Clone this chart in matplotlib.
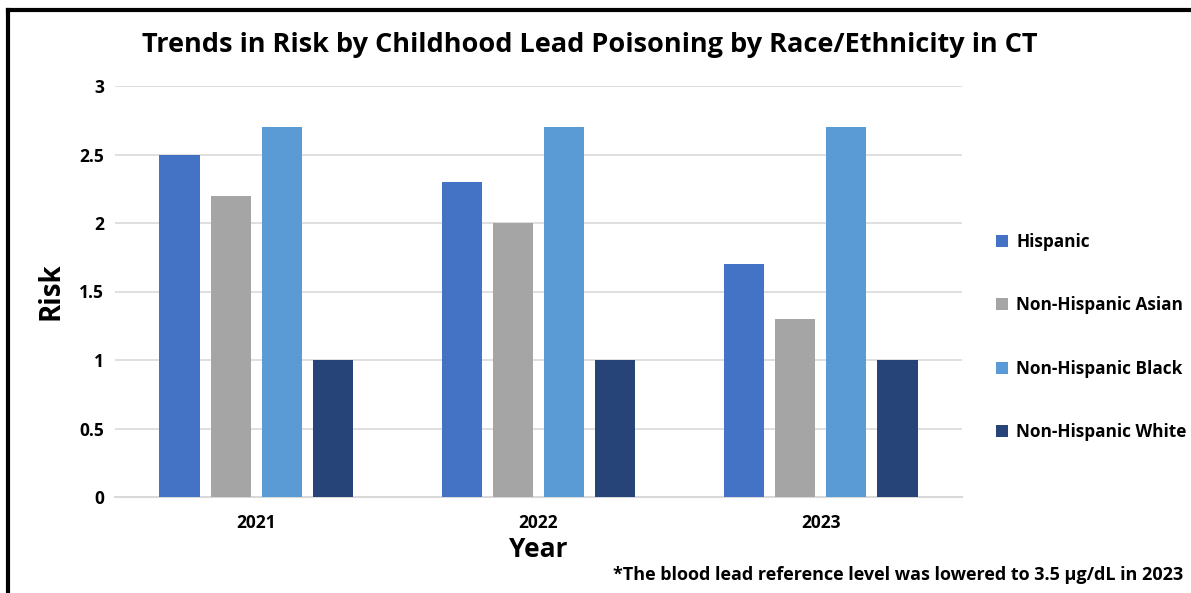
import numpy as np
import matplotlib.pyplot as plt
from matplotlib.patches import Patch
from matplotlib.lines import Line2D

plt.rcParams['font.family'] = ['Open Sans', 'DejaVu Sans']
plt.rcParams['font.weight'] = 'bold'

# Risk ratios by year and group
years = ['2021', '2022', '2023']
groups = ['Hispanic', 'Non-Hispanic Asian', 'Non-Hispanic Black', 'Non-Hispanic White']
hispanic = [2.5, 2.3, 1.7]
nh_asian = [2.2, 2.0, 1.3]
nh_black = [2.7, 2.7, 2.7]
nh_white = [1.0, 1.0, 1.0]
colors = ['#4472C4', '#A5A5A5', '#5B9BD5', '#264478']

fig = plt.figure(figsize=(11.91, 5.93), dpi=100)
W, H = 1191, 593
ax = fig.add_axes([115 / W, 1 - 497 / H, (962 - 115) / W, (497 - 86) / H])

x = np.arange(len(years))
width = 0.142
step = 0.181
series = [hispanic, nh_asian, nh_black, nh_white]
for i, vals in enumerate(series):
    ax.bar(x + (i - 1.5) * step, vals, width, color=colors[i], zorder=3)

ax.set_xlim(-0.5, 2.5)
ax.set_ylim(0, 3)
ax.set_yticks([0, 0.5, 1, 1.5, 2, 2.5, 3])
ax.set_yticklabels(['0', '0.5', '1', '1.5', '2', '2.5', '3'])
ax.set_xticks(x)
ax.set_xticklabels(years)
ax.grid(axis='y', color='#d9d9d9', linewidth=1.2, zorder=0)
for s in ['top', 'right', 'left']:
    ax.spines[s].set_visible(False)
ax.spines['bottom'].set_color('#d9d9d9')
ax.spines['bottom'].set_linewidth(1.5)
ax.tick_params(axis='both', length=0, labelsize=12.5)
ax.tick_params(axis='y', pad=8)
ax.tick_params(axis='x', pad=12)

ax.set_ylabel('Risk', fontsize=20, fontweight='bold', labelpad=10)
ax.set_xlabel('Year', fontsize=19, fontweight='bold', labelpad=3)

fig.text(590 / W, 1 - 45 / H, 'Trends in Risk by Childhood Lead Poisoning by Race/Ethnicity in CT',
         ha='center', va='center', fontsize=19.5, fontweight='bold')
fig.text(1183 / W, 1 - 575 / H, '*The blood lead reference level was lowered to 3.5 μg/dL in 2023',
         ha='right', va='center', fontsize=13, fontweight='bold')

# legend on the right
handles = [Patch(facecolor=c, edgecolor='none') for c in colors]
fig.legend(handles, groups, loc='center left', bbox_to_anchor=(980 / W, 1 - 337 / H),
           frameon=False, fontsize=12.4, labelspacing=2.62, handlelength=0.7,
           handleheight=0.7, handletextpad=0.5)

# frame lines along top and left edge
fig.add_artist(Line2D([8 / W, 1], [1 - 10 / H, 1 - 10 / H], color='black', linewidth=3,
                      transform=fig.transFigure))
fig.add_artist(Line2D([8 / W, 8 / W], [0, 1 - 10 / H], color='black', linewidth=3,
                      transform=fig.transFigure))

fig.savefig('out.png', dpi=100)
